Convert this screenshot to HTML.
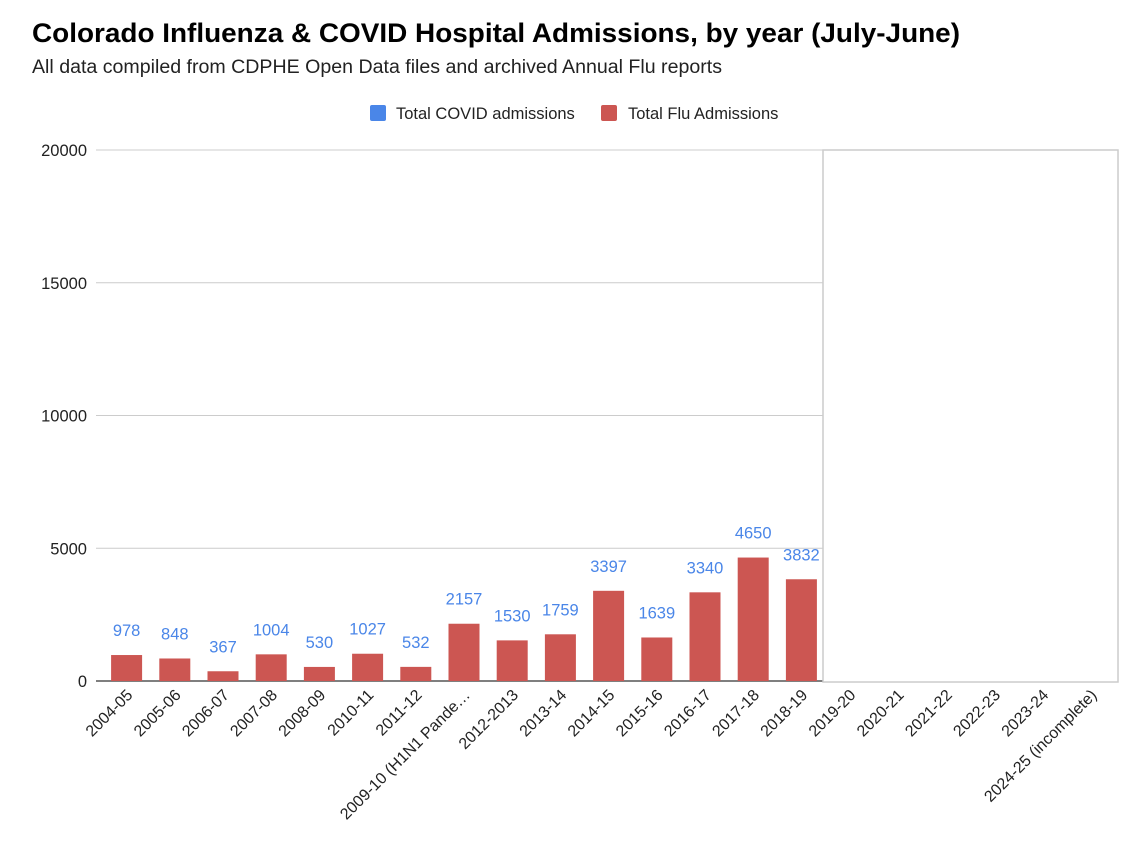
<!DOCTYPE html>
<html><head><meta charset="utf-8"><style>
body{margin:0;background:#fff;font-family:"Liberation Sans",Arial,sans-serif;}
</style></head><body>
<svg width="1142" height="852" xmlns="http://www.w3.org/2000/svg" font-family="Liberation Sans, Arial, sans-serif">
<rect width="1142" height="852" fill="#fff"/>
<text x="32" y="42" font-size="27" font-weight="bold" fill="#000" textLength="928" lengthAdjust="spacingAndGlyphs">Colorado Influenza &amp; COVID Hospital Admissions, by year (July-June)</text>
<text x="32" y="73" font-size="19" fill="#222" textLength="690" lengthAdjust="spacingAndGlyphs">All data compiled from CDPHE Open Data files and archived Annual Flu reports</text>
<g>
<g><rect x="370" y="105" width="16" height="16" rx="2" fill="#4a86e8"/><text x="396" y="119" font-size="16.5" fill="#222">Total COVID admissions</text></g>
<g><rect x="601" y="105" width="16" height="16" rx="2" fill="#cc5652"/><text x="628" y="119" font-size="16.5" fill="#222">Total Flu Admissions</text></g>
</g>
<g id="grid"></g>
<g id="bars"></g>
<rect x="823" y="150" width="295" height="532" fill="#fff" stroke="#ccc" stroke-width="1.5"/>
<g id="xl"></g>
</svg>
<script>
const categories=["2004-05","2005-06","2006-07","2007-08","2008-09","2010-11","2011-12","2009-10 (H1N1 Pande…","2012-2013","2013-14","2014-15","2015-16","2016-17","2017-18","2018-19","2019-20","2020-21","2021-22","2022-23","2023-24","2024-25 (incomplete)"];
const fluValues=[978,848,367,1004,530,1027,532,2157,1530,1759,3397,1639,3340,4650,3832,null,null,null,null,null,null];
const yTicks=[0,5000,10000,15000,20000];
const NS="http://www.w3.org/2000/svg";
const left=102.5,band=48.2,y0=681,yTop=150,yMax=20000;
const y=v=>y0-(v/yMax)*(y0-yTop);
const xc=i=>left+band*(i+0.5);
function mk(t,a,p){const e=document.createElementNS(NS,t);for(const k in a)e.setAttribute(k,a[k]);p.appendChild(e);return e;}
const g=document.getElementById('grid'),b=document.getElementById('bars'),xl=document.getElementById('xl');
yTicks.forEach(v=>{
 const l=mk('line',{x1:96,x2:1115,y1:y(v),y2:y(v),stroke:v===0?'#333':'#ccc','stroke-width':v===0?1.3:1},g);
 
 
 const t=mk('text',{x:87,y:y(v)+6,'text-anchor':'end','font-size':16.5,fill:'#222'},g);
 t.textContent=v;
 
 
});
const bw=31;
categories.forEach((c,i)=>{
 const v=fluValues[i];
 if(v!=null){
  const r=mk('rect',{x:xc(i)-bw/2,y:y(v),width:bw,height:y0-y(v),fill:'#cc5652'},b);
  
  
  const t=mk('text',{x:xc(i),y:y(v)-19,'text-anchor':'middle','font-size':16.5,fill:'#4a86e8'},b);
  t.textContent=v;
  
  
 }
 const t=mk('text',{x:0,y:0,'text-anchor':'end','font-size':16,fill:'#222',transform:`translate(${xc(i)+7},${y0+15}) rotate(-45)`},xl);
 t.textContent=c;
 
 
});
</script>
</body></html>
